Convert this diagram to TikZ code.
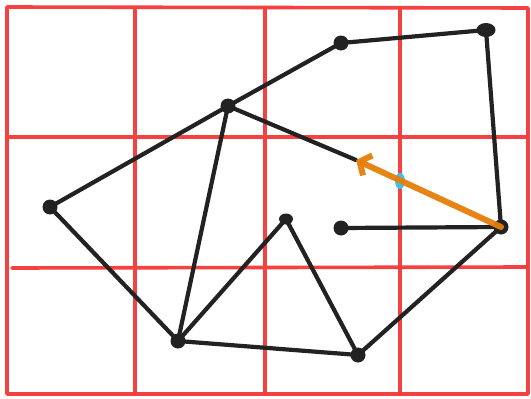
\documentclass[tikz,border=0pt]{standalone}
\usetikzlibrary{arrows.meta,shapes.geometric}
\definecolor{gridred}{HTML}{F5413F}
\definecolor{ink}{HTML}{222222}
\definecolor{arrorange}{HTML}{E67E0A}
\definecolor{dotblue}{HTML}{3FC0E8}
\begin{document}
\begin{tikzpicture}[x=1pt,y=-1pt,
  gridline/.style={draw=gridred,line width=3.6pt,line cap=round,line join=round},
  edge/.style={draw=ink,line width=4.2pt,line cap=round,line join=round},
  dot/.style={circle,fill=ink,inner sep=0pt,minimum size=15pt},
  bigdot/.style={ellipse,fill=ink,inner sep=0pt,minimum width=19pt,minimum height=14pt}]
\useasboundingbox (0,0) rectangle (531,399);
\fill[white] (0,0) rectangle (531,399);
% grid
\draw[gridline] (7,7) -- (528,8) -- (528,394) -- (7,394) -- cycle;
\draw[gridline] (135,10) -- (135,394);
\draw[gridline] (265,8) -- (265,394);
\draw[gridline] (400,10) -- (400,394);
\draw[gridline] (7,137) -- (528,137);
\draw[gridline] (12,268) -- (528,267);
% nodes
\node[dot] (A) at (341,43) {};
\node[bigdot] (B) at (486,30) {};
\node[dot] (C) at (228,106) {};
\node[dot] (D) at (50,207) {};
\node[ellipse,fill=ink,inner sep=0pt,minimum width=14pt,minimum height=11pt] (E) at (286,219) {};
\node[dot] (F) at (341,228) {};
\node[dot] (G) at (501,227) {};
\node[dot] (H) at (178,341) {};
\node[dot] (I) at (358,355) {};
\coordinate (T) at (356,160);
\node[ellipse,fill=dotblue,inner sep=0pt,minimum width=10pt,minimum height=16pt] (K) at (400,181) {};
% edges
\draw[edge] (A.center) -- (B.center);
\draw[edge] (B.center) -- (G.center);
\draw[edge] (A.center) -- (C.center);
\draw[edge] (C.center) -- (D.center);
\draw[edge] (C.center) -- (T);
\draw[edge] (C.center) -- (H.center);
\draw[edge] (D.center) -- (H.center);
\draw[edge] (H.center) -- (E.center);
\draw[edge] (E.center) -- (I.center);
\draw[edge] (H.center) -- (I.center);
\draw[edge] (I.center) -- (G.center);
\draw[edge] (F.center) -- (G.center);
% orange arrow
\draw[draw=arrorange,opacity=0.95,line width=6pt,line cap=round,-{Straight Barb[length=9pt,width=22pt,line width=6pt]}] (G.center) -- (T);
\end{tikzpicture}
\end{document}
